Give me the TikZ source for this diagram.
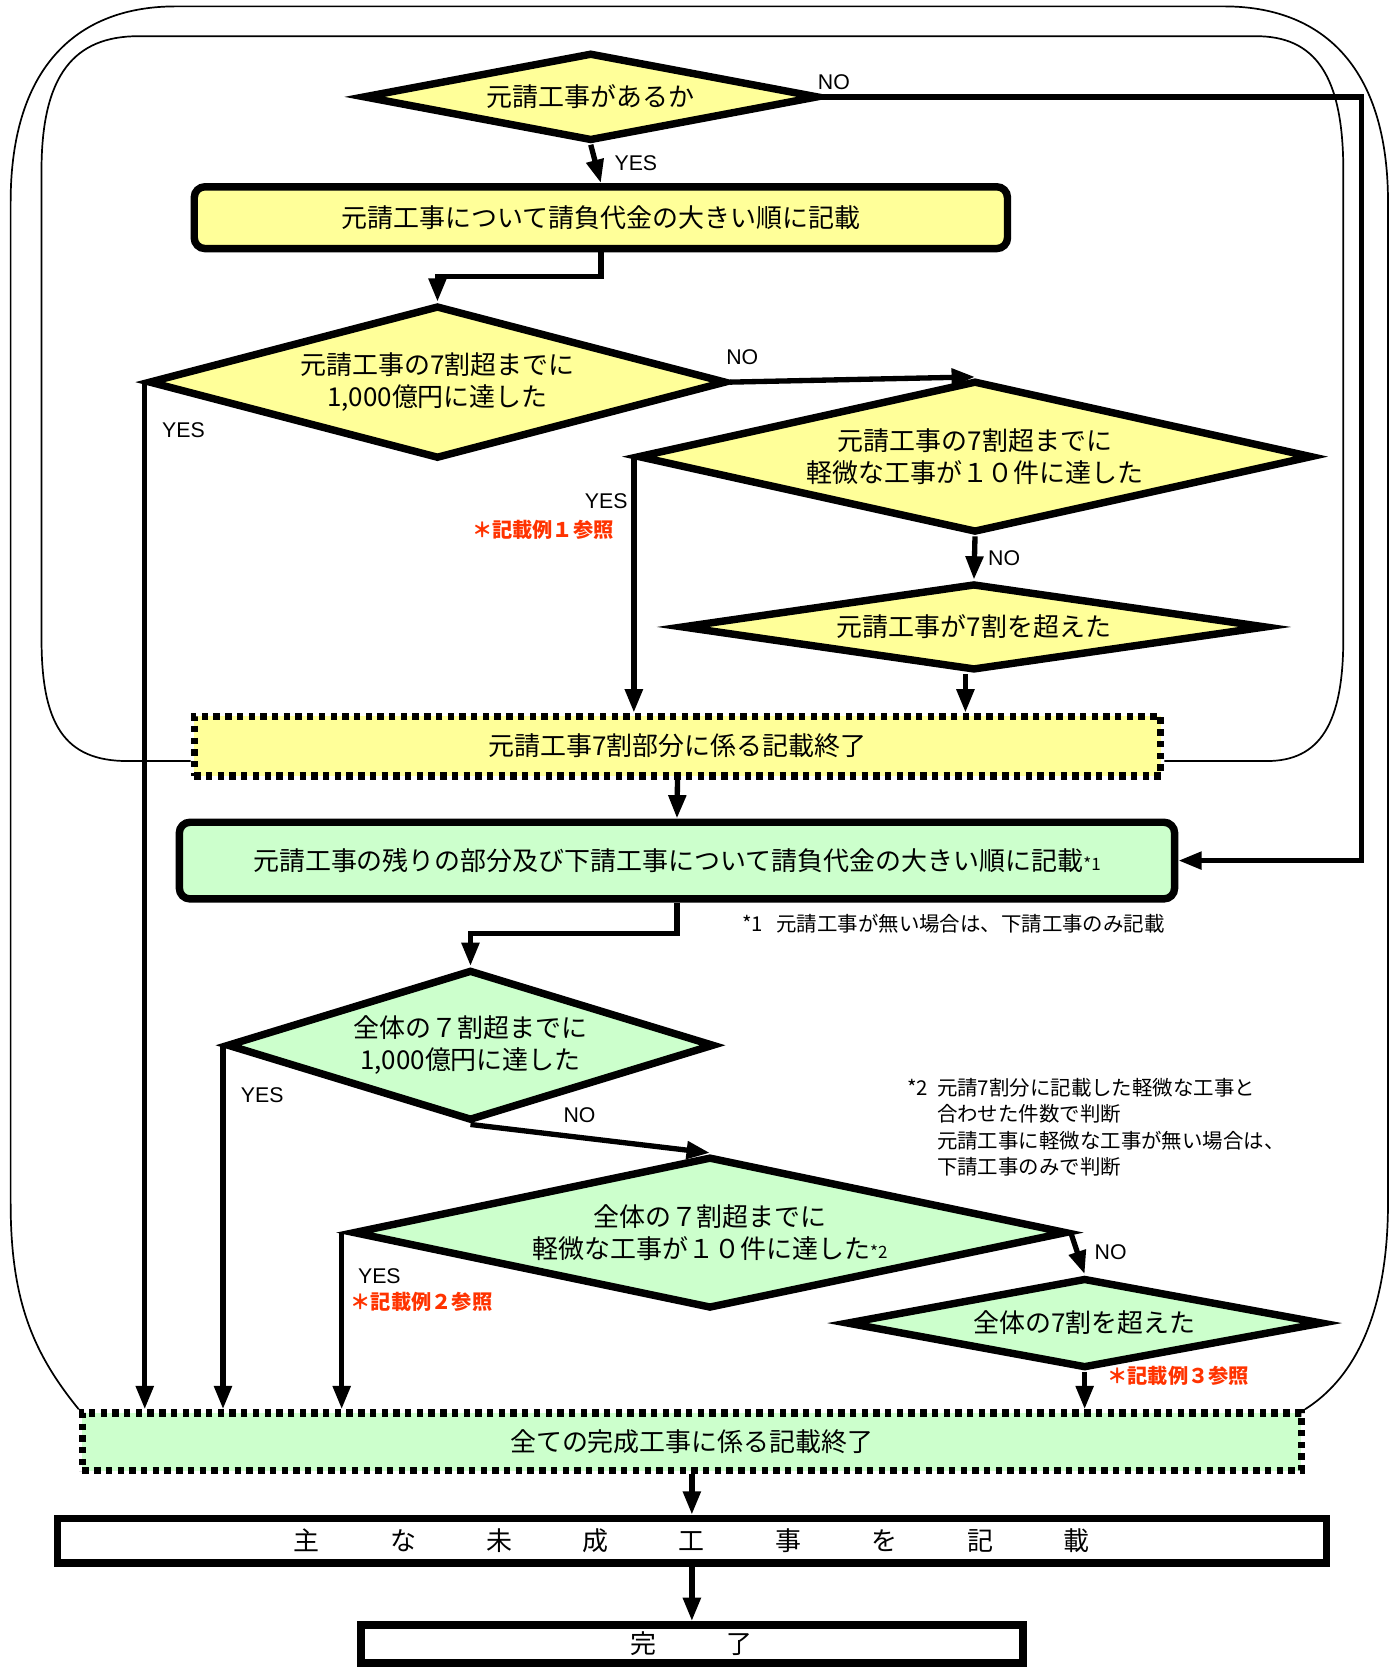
\documentclass[tikz,border=0pt]{standalone}
\usepackage{fontspec}
\setmainfont{Liberation Sans}
\newfontfamily\jp{Noto Sans CJK JP}
\usetikzlibrary{shapes.geometric,arrows.meta}
\definecolor{ylwfill}{HTML}{FFFF99}
\definecolor{grnfill}{HTML}{CCFFCC}
\definecolor{refred}{HTML}{FF3300}
\newcommand{\wgap}{\hspace{33pt}}
\tikzset{
  jptext/.style={font=\jp\fontsize{12.2}{15}\selectfont},
  dec/.style={diamond, draw, line width=3.5pt, inner sep=0pt, align=center, jptext},
  proc/.style={rectangle, rounded corners=5pt, draw, line width=3.5pt, inner sep=0pt, align=center, jptext},
  endbox/.style={rectangle, draw, line width=3.5pt, dash pattern=on 3pt off 2.5pt, inner sep=0pt, jptext},
  whitebox/.style={rectangle, draw, line width=3.5pt, fill=white, inner sep=0pt, jptext},
  conn/.style={line width=2.5pt, -{Triangle[length=11pt,width=8pt]}},
  frameline/.style={line width=0.8pt},
  lbl/.style={font=\fontsize{10}{12}\selectfont, inner sep=0pt},
  refnote/.style={font=\jp\bfseries\fontsize{9.5}{11}\selectfont, text=refred, inner sep=0pt},
  note/.style={font=\jp\fontsize{9.6}{12.25}\selectfont, inner sep=0pt, align=left}
}
\begin{document}
\begin{tikzpicture}[x=0.5pt,y=-0.5pt]
  \useasboundingbox (0,0) rectangle (1314,1568);
  % original contracts (yellow)
  \node[dec,fill=ylwfill,shape aspect=5.16,minimum width=214pt,minimum height=41.5pt] (q1) at (555,91) {元請工事があるか};
  \node[proc,fill=ylwfill,minimum width=382pt,minimum height=29pt] (s1) at (564.5,204.5) {元請工事について請負代金の大きい順に記載};
  \node[dec,fill=ylwfill,shape aspect=3.77,minimum width=271.5pt,minimum height=72pt] (q2) at (411,359) {元請工事の7割超までに\\1,000億円に達した};
  \node[dec,fill=ylwfill,shape aspect=4.44,minimum width=317pt,minimum height=71.4pt] (q3) at (916,429) {元請工事の7割超までに\\軽微な工事が１０件に達した};
  \node[dec,fill=ylwfill,shape aspect=6.72,minimum width=275pt,minimum height=40.9pt] (q4) at (915,589) {元請工事が7割を超えた};
  \node[endbox,fill=ylwfill,minimum width=454pt,minimum height=28pt] (e1) at (636.5,701) {元請工事7割部分に係る記載終了};
  % remaining part and subcontracts (green)
  \node[proc,fill=grnfill,minimum width=467.5pt,minimum height=36pt] (s2) at (636,808.5) {元請工事の残りの部分及び下請工事について請負代金の大きい順に記載{\fontsize{8}{8}\selectfont *1}};
  \node[dec,fill=grnfill,shape aspect=3.23,minimum width=229pt,minimum height=70.9pt] (q5) at (442,982) {全体の７割超までに\\1,000億円に達した};
  \node[dec,fill=grnfill,shape aspect=4.7,minimum width=335.5pt,minimum height=71.4pt] (q6) at (667,1158) {全体の７割超までに\\軽微な工事が１０件に達した{\fontsize{8}{8}\selectfont *2}};
  \node[dec,fill=grnfill,shape aspect=5.28,minimum width=224pt,minimum height=42.4pt] (q7) at (1019,1243) {全体の7割を超えた};
  \node[endbox,fill=grnfill,minimum width=572.5pt,minimum height=27pt] (e2) at (650,1354.5) {全ての完成工事に係る記載終了};
  \node[whitebox,minimum width=596pt,minimum height=21pt] (w1) at (650,1447.5) {主\wgap な\wgap 未\wgap 成\wgap 工\wgap 事\wgap を\wgap 記\wgap 載};
  \node[whitebox,minimum width=311pt,minimum height=18pt] (w2) at (650,1544.5) {完\wgap 了};
  \coordinate (nox) at (1279,0);

  % connectors
  \draw[conn] (q1.south) -- (s1.north);
  \draw[conn] (q1.east) -- (q1.east -| nox) |- (s2.east);
  \draw[conn] (s1.south) -- ++(0,23) -| (q2.north);
  \draw[conn] (q2.east) -- (q3.north);
  \draw[conn] (q2.west) -- (q2.west |- e2.north);
  \draw[conn] (q3.west) -- (q3.west |- e1.north);
  \draw[conn] (q3.south) -- (q4.north);
  \draw[conn] ([xshift=-4pt]q4.south) -- ([xshift=-4pt]q4.south |- e1.north);
  \draw[conn] (e1.south) -- (s2.north);
  \draw[conn] (s2.south) -- ++(0,29) -| (q5.north);
  \draw[conn] (q5.west) -- (q5.west |- e2.north);
  \draw[conn] (q5.south) -- (q6.north);
  \draw[conn] ([xshift=-3.5pt]q6.west) -- ([xshift=-3.5pt]q6.west |- e2.north);
  \draw[conn] (q6.east) -- (q7.north);
  \draw[conn] (q7.south) -- (q7.south |- e2.north);
  \draw[conn] (e2.south) -- (w1.north);
  \draw[conn] (w1.south) -- (w2.north);

  % the two loops round the flow
  \draw[frameline] (e2.north west) .. controls (30,1270) and (10,1220) .. (10,1130) -- (10,190)
    .. controls (10,60) and (75,6) .. (165,6) -- (1150,6) .. controls (1240,6) and (1304,60) .. (1304,190)
    -- (1304,1130) .. controls (1304,1220) and (1280,1290) .. (e2.north east);
  \draw[frameline] ([yshift=-7pt]e1.west) -- (120,715) .. controls (60,715) and (39,680) .. (39,600) -- (39,160)
    .. controls (39,70) and (70,34) .. (130,34) -- (1180,34) .. controls (1235,34) and (1262,70) .. (1262,160)
    -- (1262,600) .. controls (1262,680) and (1240,715) .. (1190,715) -- ([yshift=-7pt]e1.east);

  % YES / NO
  \foreach \x/\y/\t in {768/77/NO, 577/153/YES, 682/336/NO, 152/404/YES, 928/524/NO,
                        226/1029/YES, 529/1048/NO, 336/1199/YES, 1028/1176/NO}
    \node[lbl,anchor=west] (lb\x) at (\x,\y) {\t};
  \node[lbl,anchor=east] (lb590) at (590,471) {YES};

  % references and notes
  \node[refnote] (ex1) at (510,498) {＊記載例１参照};
  \node[refnote] (ex2) at (396,1223) {＊記載例２参照};
  \node[refnote] (ex3) at (1107,1293) {＊記載例３参照};
  \node[note,anchor=west] (n1) at (697,868) {\makebox[16pt][l]{*1}元請工事が無い場合は、下請工事のみ記載};
  \node[note,anchor=north west] (n2) at (852,1013) {\makebox[14pt][l]{*2}元請7割分に記載した軽微な工事と\\
    \hspace*{14pt}合わせた件数で判断\\ \hspace*{14pt}元請工事に軽微な工事が無い場合は、\\ \hspace*{14pt}下請工事のみで判断};
\end{tikzpicture}
\end{document}
